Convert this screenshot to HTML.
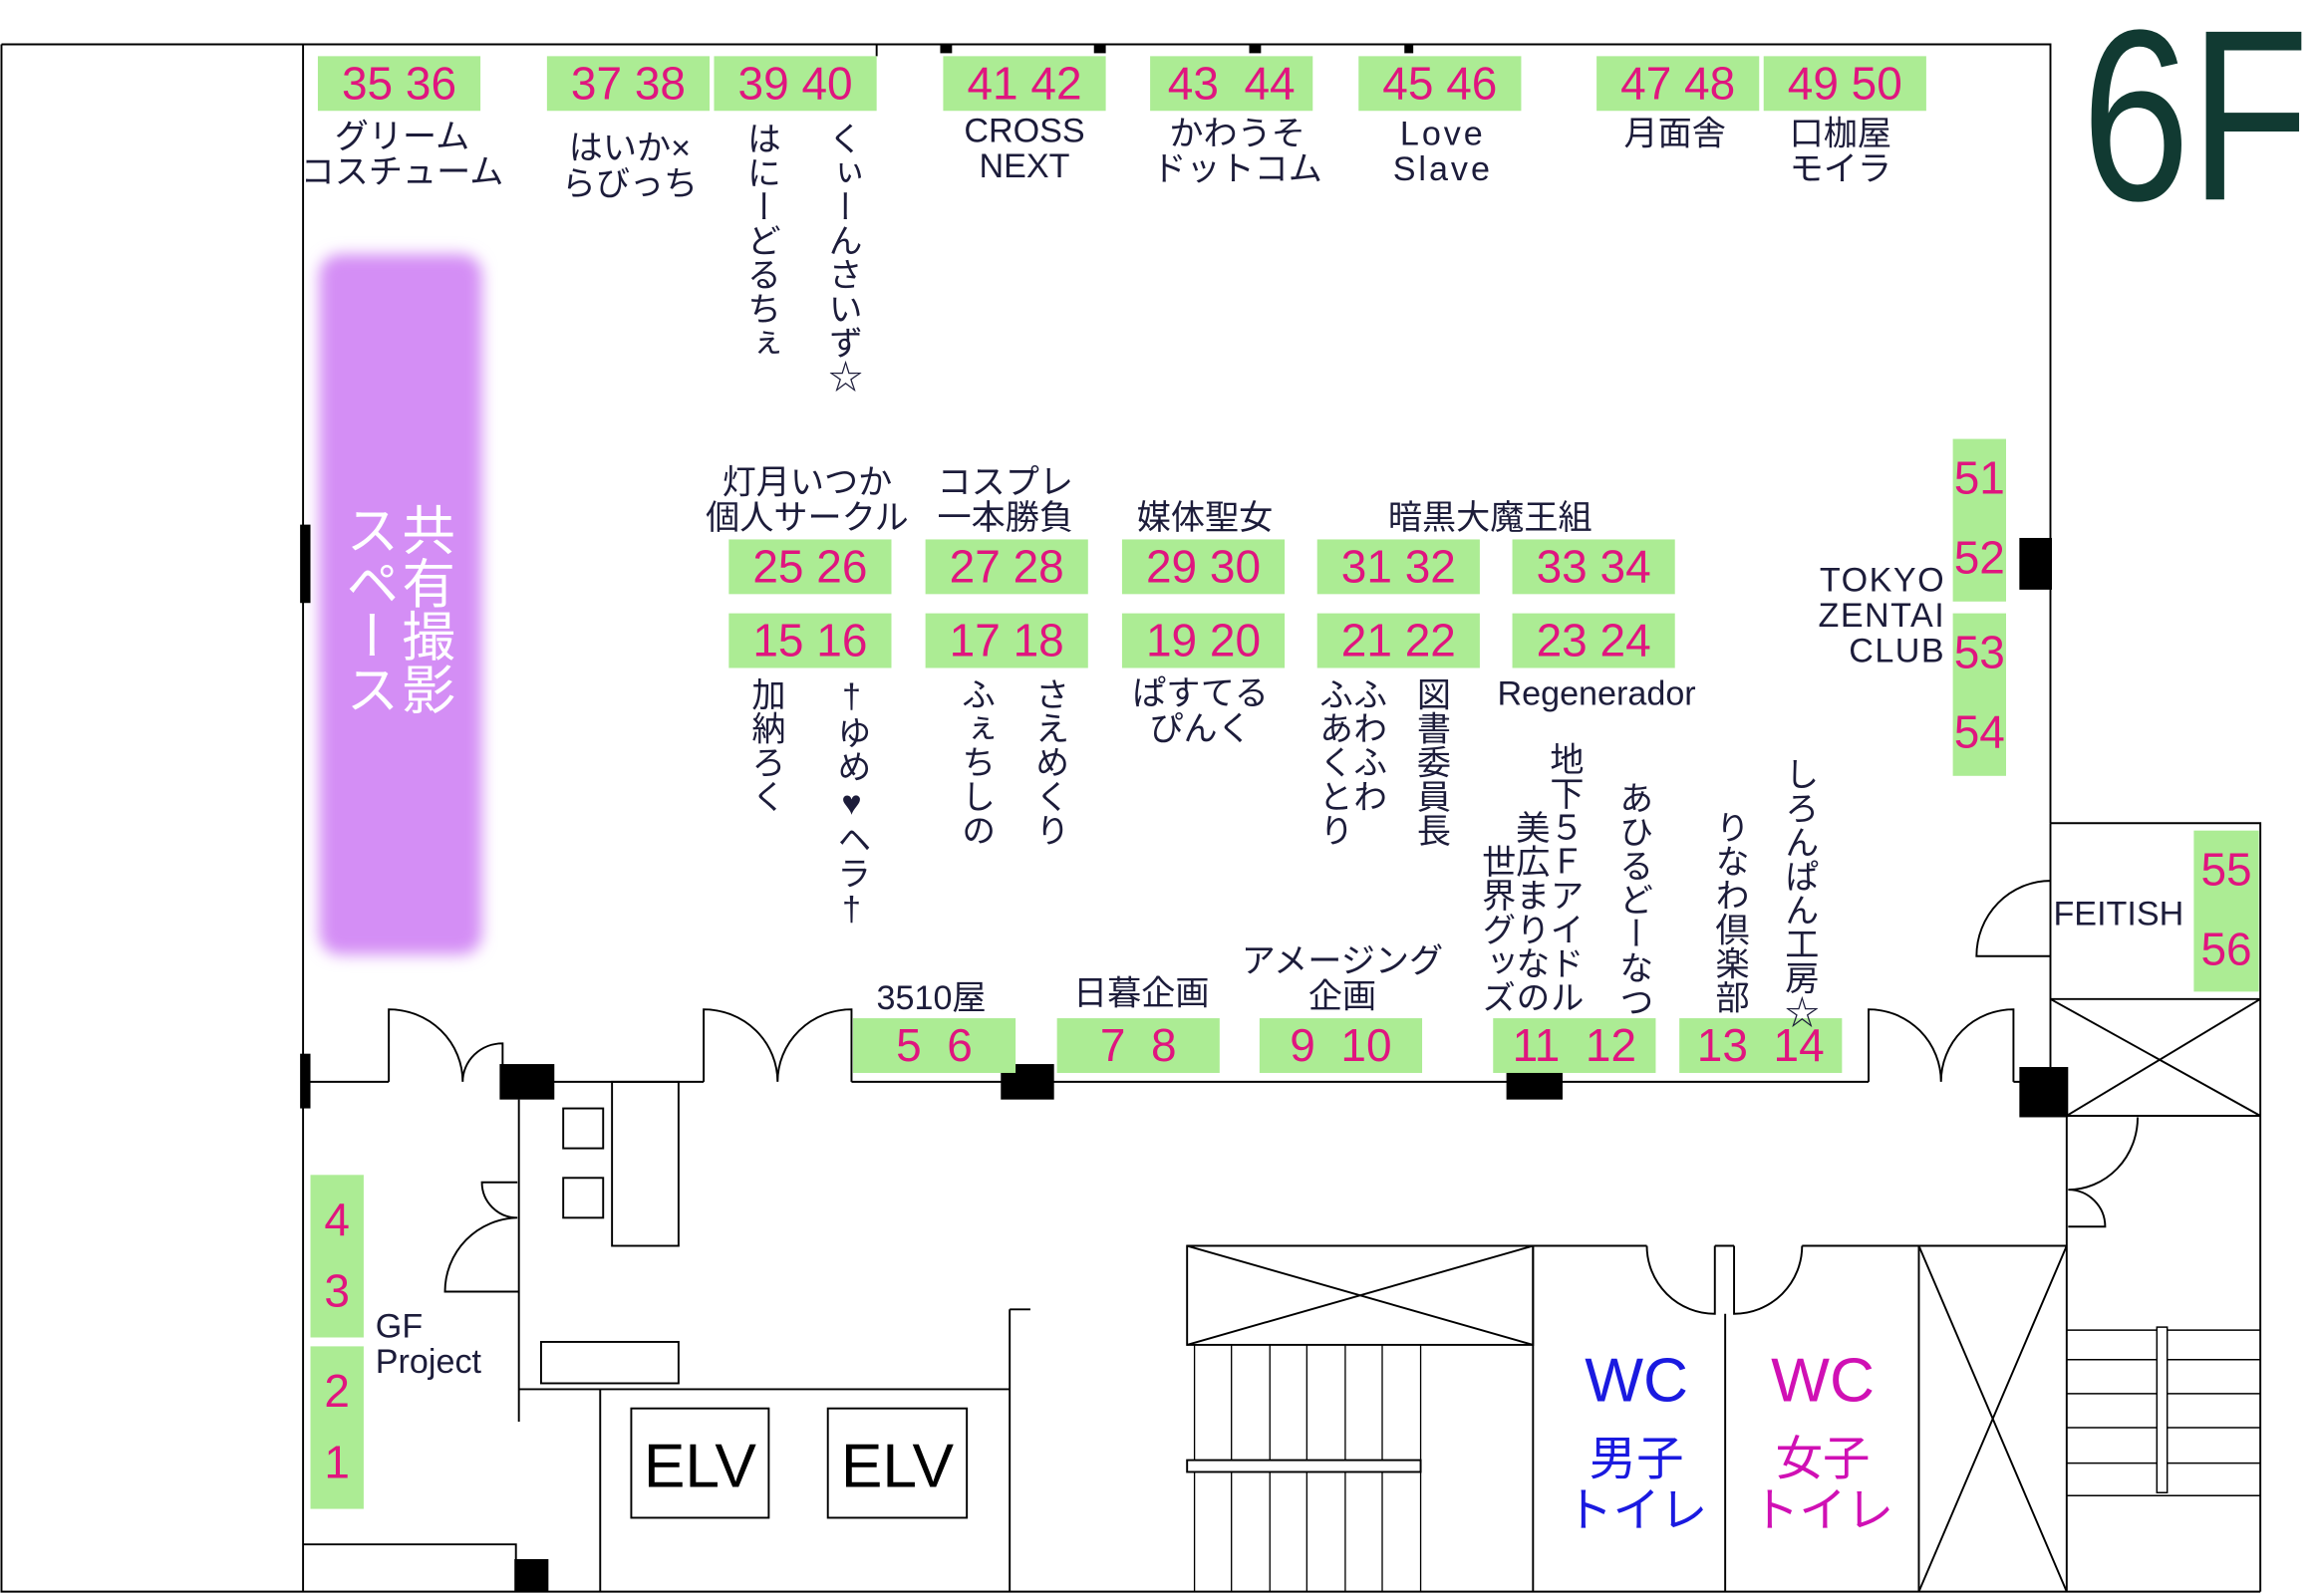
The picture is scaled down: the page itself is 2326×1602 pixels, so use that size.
<!DOCTYPE html>
<html><head><meta charset="utf-8"><style>
html,body{margin:0;padding:0;width:2326px;height:1601px;overflow:hidden;background:#fff}
#c{position:absolute;left:0;top:0;width:1568px;height:1080px;transform:scale(1.48342);transform-origin:0 0;font-family:"Liberation Sans","Noto Sans CJK JP",sans-serif;color:#1c1c3a}
.b{position:absolute;background:#acec94;color:#e0157f;font-family:"Liberation Sans Narrow","Liberation Sans",sans-serif;font-size:31px;text-align:center;white-space:pre}
.t{position:absolute;font-size:23px;line-height:24px;text-align:center;white-space:nowrap}
.v{position:absolute;writing-mode:vertical-rl;text-orientation:upright;font-size:23px;line-height:23px;letter-spacing:0px;white-space:nowrap}
svg{position:absolute;left:0;top:0}
</style></head><body><div id="c">
<svg width="1568" height="1080" viewBox="0 0 1568 1080" fill="none" stroke="#000" stroke-width="1.3">
<defs><filter id="bl"><feGaussianBlur stdDeviation="5"/></filter></defs>
<rect x="216" y="172" width="110" height="474" rx="14" fill="#d48ef5" stroke="none" filter="url(#bl)"/>
<path d="M1 30H1387V557M1 30V1077H1529M205 30V1077"/>
<path d="M593 30V38" />
<g fill="#000" stroke="none">
<rect x="636" y="30" width="8" height="6"/><rect x="740" y="30" width="8" height="6"/><rect x="845" y="30" width="8" height="6"/><rect x="950" y="30" width="6" height="6"/>
<rect x="203" y="355" width="7" height="53"/><rect x="203" y="713" width="7" height="37"/>
<rect x="1366" y="364" width="22" height="35"/>
<rect x="338" y="720" width="37" height="24"/><rect x="677" y="720" width="36" height="24"/><rect x="1019" y="720" width="38" height="24"/><rect x="1366" y="722" width="33" height="34"/>
<rect x="348" y="1055" width="23" height="22"/>
</g>
<path d="M205 732H263M340 732H476M576 732H1264M1362 732H1387"/>
<path d="M263 732V683A50 49 0 0 1 313 732M340 732V706A27 26 0 0 0 313 732"/>
<path d="M476 732V683A50 49 0 0 1 526 732M576 732V683A50 49 0 0 0 526 732"/>
<path d="M1264 732V683A49 49 0 0 1 1313 732M1362 732V683A49 49 0 0 0 1313 732"/>
<path d="M1387 557H1529V1077M1387 557V722M1387 676H1529M1387 676L1529 755M1529 676L1398 755M1398 755H1529"/>
<path d="M1387 647H1337A50 51 0 0 1 1387 596"/>
<path d="M1398 756V843M1446 756A47 49 0 0 1 1399 805M1399 805A25 25 0 0 1 1424 830H1399"/>
<path d="M1398 843V1077"/>
<path d="M1398 900H1529M1398 920H1529M1398 943H1529M1398 966H1529M1398 990H1529M1398 1012H1529" stroke-width="1"/>
<rect x="1459" y="898" width="7" height="112" stroke-width="1" fill="#fff"/>
<path d="M803 843H1114M1160 843H1173M1219 843H1398"/>
<path d="M1114 843A46 46 0 0 0 1160 889V843M1173 843V889A46 46 0 0 0 1219 843"/>
<rect x="803" y="843" width="234" height="67"/>
<path d="M803 843L1037 910M1037 843L803 910"/>
<path d="M1037 843V1077M1167 889V1077M1298 843V1077"/>
<path d="M1298 843L1398 1077M1398 843L1298 1077"/>
<path d="M808 910V1077M833 910V1077M859 910V1077M884 910V1077M910 910V1077M935 910V1077M961 910V1077" stroke-width="0.9"/>
<rect x="803" y="988" width="158" height="8" fill="#fff"/>
<path d="M351 744V962M351 940H683M406 940V1077M683 886V1077M683 886H697"/>
<rect x="381" y="750" width="27" height="27"/><rect x="381" y="797" width="27" height="27"/>
<rect x="414" y="732" width="45" height="111"/>
<rect x="366" y="908" width="93" height="28"/>
<path d="M350 800H326A24 24 0 0 0 350 824A50 50 0 0 0 301 874H351"/>
<rect x="427" y="953" width="93" height="74"/><rect x="560" y="953" width="94" height="74"/>
<path d="M205 1045H349V1077"/>
</svg>

<div class="v" style="left:268px;top:340px;font-size:36px;line-height:38px;color:#fff">共有撮影</div>
<div class="v" style="left:230px;top:340px;font-size:36px;line-height:38px;color:#fff">スペース</div>
<div style="position:absolute;left:1408px;top:-4px;font-size:165px;line-height:165px;color:#113a32;font-family:'Liberation Sans',sans-serif;transform:scaleX(0.8);transform-origin:0 0">6F</div>

<div class="b" style="left:215px;top:38px;width:110px;height:37px;line-height:37px">35 36</div>
<div class="b" style="left:370px;top:38px;width:110px;height:37px;line-height:37px">37 38</div>
<div class="b" style="left:483px;top:38px;width:110px;height:37px;line-height:37px">39 40</div>
<div class="b" style="left:638px;top:38px;width:110px;height:37px;line-height:37px">41 42</div>
<div class="b" style="left:778px;top:38px;width:110px;height:37px;line-height:37px">43  44</div>
<div class="b" style="left:919px;top:38px;width:110px;height:37px;line-height:37px">45 46</div>
<div class="b" style="left:1080px;top:38px;width:110px;height:37px;line-height:37px">47 48</div>
<div class="b" style="left:1193px;top:38px;width:110px;height:37px;line-height:37px">49 50</div>

<div class="b" style="left:493px;top:365px;width:110px;height:37px;line-height:37px">25 26</div>
<div class="b" style="left:626px;top:365px;width:110px;height:37px;line-height:37px">27 28</div>
<div class="b" style="left:759px;top:365px;width:110px;height:37px;line-height:37px">29 30</div>
<div class="b" style="left:891px;top:365px;width:110px;height:37px;line-height:37px">31 32</div>
<div class="b" style="left:1023px;top:365px;width:110px;height:37px;line-height:37px">33 34</div>
<div class="b" style="left:493px;top:415px;width:110px;height:37px;line-height:37px">15 16</div>
<div class="b" style="left:626px;top:415px;width:110px;height:37px;line-height:37px">17 18</div>
<div class="b" style="left:759px;top:415px;width:110px;height:37px;line-height:37px">19 20</div>
<div class="b" style="left:891px;top:415px;width:110px;height:37px;line-height:37px">21 22</div>
<div class="b" style="left:1023px;top:415px;width:110px;height:37px;line-height:37px">23 24</div>

<div class="b" style="left:577px;top:689px;width:110px;height:37px;line-height:37px">5  6</div>
<div class="b" style="left:715px;top:689px;width:110px;height:37px;line-height:37px">7  8</div>
<div class="b" style="left:852px;top:689px;width:110px;height:37px;line-height:37px">9  10</div>
<div class="b" style="left:1010px;top:689px;width:110px;height:37px;line-height:37px">11  12</div>
<div class="b" style="left:1136px;top:689px;width:110px;height:37px;line-height:37px">13  14</div>

<div class="b" style="left:1321px;top:297px;width:36px;height:110px;line-height:54px">51
52</div>
<div class="b" style="left:1321px;top:415px;width:36px;height:110px;line-height:54px">53
54</div>
<div class="b" style="left:1484px;top:562px;width:44px;height:109px;line-height:54px">55
56</div>
<div class="b" style="left:210px;top:795px;width:36px;height:110px;line-height:48px;padding-top:7px;box-sizing:border-box">4
3</div>
<div class="b" style="left:210px;top:911px;width:36px;height:110px;line-height:48px;padding-top:7px;box-sizing:border-box">2
1</div>

<div class="t" style="left:200px;top:80px;width:144px">グリーム<br>コスチューム</div>
<div class="t" style="left:366px;top:88px;width:120px">はいか×<br>らびっち</div>
<div class="v" style="left:503px;top:82px">はにーどるちぇ</div>
<div class="v" style="left:558px;top:82px">くぃーんさいず☆</div>
<div class="t" style="left:633px;top:76px;width:120px">CROSS<br>NEXT</div>
<div class="t" style="left:777px;top:78px;width:120px">かわうそ<br>ドットコム</div>
<div class="t" style="left:916px;top:78px;width:120px;letter-spacing:2px">Love<br>Slave</div>
<div class="t" style="left:1073px;top:78px;width:120px">月面舎</div>
<div class="t" style="left:1185px;top:78px;width:120px">口枷屋<br>モイラ</div>

<div class="t" style="left:470px;top:314px;width:152px">灯月いつか<br>個人サークル</div>
<div class="t" style="left:620px;top:314px;width:120px">コスプレ<br>一本勝負</div>
<div class="t" style="left:755px;top:338px;width:120px">媒体聖女</div>
<div class="t" style="left:928px;top:338px;width:160px">暗黒大魔王組</div>
<div class="t" style="left:1200px;top:380px;width:116px;text-align:right;letter-spacing:1px;line-height:24px">TOKYO<br>ZENTAI<br>CLUB</div>

<div class="v" style="left:506px;top:458px">加納ろく</div>
<div class="v" style="left:565px;top:458px;line-height:21px">†ゆめ♥ヘラ†</div>
<div class="v" style="left:648px;top:458px">ふぇちしの</div>
<div class="v" style="left:698px;top:458px">さえめくり</div>
<div class="t" style="left:752px;top:457px;width:120px">ぱすてる<br>ぴんく</div>
<div class="v" style="left:913px;top:458px">ふわふわ</div>
<div class="v" style="left:890px;top:458px">ふあくとり</div>
<div class="v" style="left:956px;top:458px">図書委員長</div>
<div class="t" style="left:1010px;top:457px;width:140px">Regenerador</div>
<div class="v" style="left:1046px;top:502px">地下５Ｆアイドル</div>
<div class="v" style="left:1023px;top:548px">美広まりなの</div>
<div class="v" style="left:1000px;top:571px">世界グッズ</div>
<div class="v" style="left:1093px;top:528px">あひるどーなつ</div>
<div class="v" style="left:1158px;top:548px">りなわ倶楽部</div>
<div class="v" style="left:1205px;top:512px">しろんぱん工房☆</div>

<div class="t" style="left:570px;top:663px;width:120px">3510屋</div>
<div class="t" style="left:712px;top:660px;width:120px">日暮企画</div>
<div class="t" style="left:833px;top:638px;width:150px">アメージング<br>企画</div>
<div class="t" style="left:1389px;top:606px;text-align:left">FEITISH</div>
<div class="t" style="left:254px;top:885px;text-align:left">GF<br>Project</div>

<div style="position:absolute;left:427px;top:953px;width:93px;height:74px;line-height:78px;text-align:center;font-size:42px;color:#000">ELV</div>
<div style="position:absolute;left:560px;top:953px;width:94px;height:74px;line-height:78px;text-align:center;font-size:42px;color:#000">ELV</div>

<div class="t" style="left:1047px;top:910px;width:120px;font-size:42px;line-height:48px;color:#1a1ae0">WC</div>
<div class="t" style="left:1047px;top:970px;width:120px;font-size:32px;line-height:35px;color:#1a1ae0">男子<br>トイレ</div>
<div class="t" style="left:1173px;top:910px;width:120px;font-size:42px;line-height:48px;color:#d010b4">WC</div>
<div class="t" style="left:1173px;top:970px;width:120px;font-size:32px;line-height:35px;color:#d010b4">女子<br>トイレ</div>
</div></body></html>
